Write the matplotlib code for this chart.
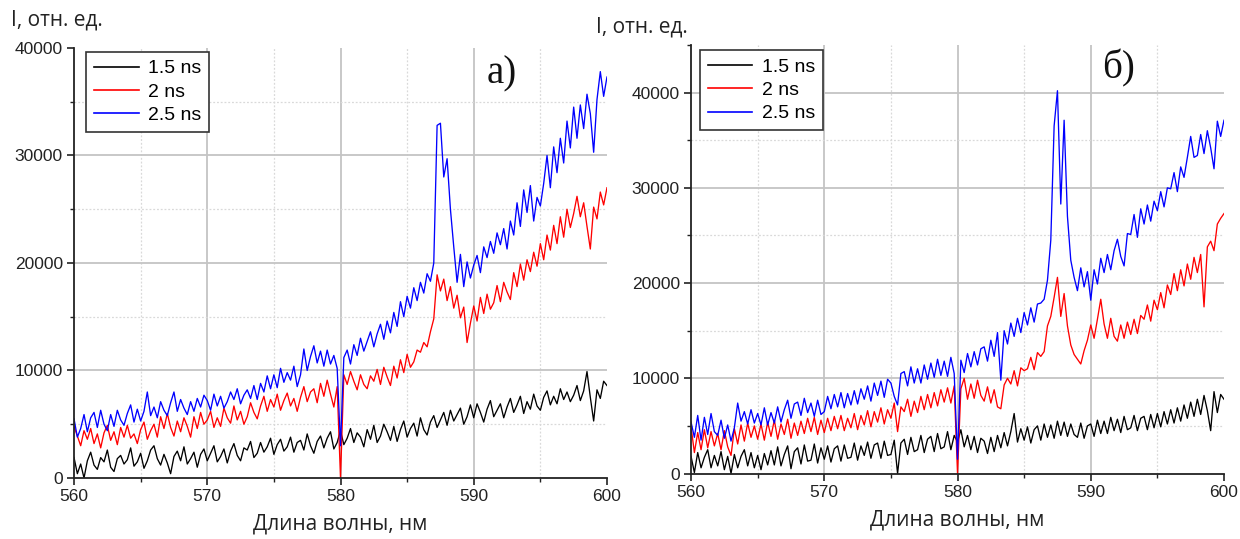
import numpy as np
import matplotlib
matplotlib.use("Agg")
import matplotlib.pyplot as plt
from matplotlib.ticker import MultipleLocator

# ---------------- data ----------------
wavelength = np.linspace(560, 600, 161)   # nm, 0.25 nm step
labels = ["1.5 ns", "2 ns", "2.5 ns"]
colors = ["#000000", "#ff0000", "#0000ff"]

a_15 = [1900, 400, 1300, 0, 1600, 2400, 1200, 800, 1900, 1500, 2600, 1000,
        600, 1800, 2100, 1300, 1700, 2800, 1100, 1500, 2300, 900, 1600, 2600,
        3000, 1800, 1200, 2200, 1400, 400, 2000, 2500, 1600, 2900, 1300, 1800,
        2400, 1000, 2200, 2700, 1600, 2300, 3000, 1500, 2000, 2700, 1400, 2500,
        3200, 2100, 1600, 2800, 2600, 3400, 1900, 2300, 3300, 2400, 2900, 3700,
        2200, 3100, 3600, 2500, 2900, 3800, 2400, 3300, 3500, 2600, 4100, 3000,
        2300, 3400, 3900, 2800, 3700, 4300, 2700, 3300, 4400, 3100, 3700, 4600,
        3300, 4200, 3800, 2900, 4500, 3600, 4900, 3300, 3900, 5000, 4300, 3500,
        4800, 3400, 4500, 5300, 3800, 4600, 5100, 3900, 5600, 4500, 4000, 5200,
        5800, 4700, 5400, 6100, 4900, 6300, 5300, 5900, 6500, 5000, 5700, 6800,
        5600, 6900, 6100, 5200, 6400, 7200, 5700, 6300, 6900, 5600, 6600, 7400,
        6100, 6800, 7600, 6000, 7100, 6400, 7800, 6700, 6300, 7500, 8100, 6800,
        7600, 6900, 8300, 7300, 8000, 7100, 7700, 8600, 7200, 8100, 9900, 7500,
        5300, 8200, 7400, 9000, 8600]

a_2 = [4800, 3900, 3000, 4400, 3600, 4600, 3200, 4100, 2800, 4200, 4900, 3500,
       4300, 3100, 4700, 3800, 4900, 3700, 4100, 3200, 4500, 5200, 3600, 4400,
       5000, 3800, 5700, 4600, 6000, 4700, 3900, 5300, 4300, 5600, 4800, 3800,
       5700, 4600, 6100, 5000, 5400, 6200, 4700, 5600, 4800, 6500, 5600, 5100,
       6700, 5400, 6200, 5000, 5700, 7000, 6100, 5500, 6700, 7600, 6200, 7300,
       6600, 7800, 6300, 7200, 7900, 6700, 7400, 6200, 7500, 8500, 7100, 8000,
       8300, 7000, 8800, 7600, 9100, 7800, 6600, 8500, 0, 9600, 8700, 9900,
       9000, 8200, 9600, 8700, 8300, 9500, 9000, 10100, 8700, 10300, 9400, 8600,
       10400, 9300, 11000, 9800, 11500, 10300, 10800, 11900, 11700, 12600, 12200, 13600,
       14800, 18900, 17400, 18500, 16500, 17800, 15800, 17000, 14900, 15900, 12600, 14400,
       16000, 14600, 16800, 15300, 17100, 15700, 16300, 17900, 16400, 18200, 17300, 16600,
       19100, 17800, 19900, 18400, 20300, 19200, 21000, 19700, 21800, 20300, 22600, 21200,
       23500, 21800, 24300, 22400, 25000, 23300, 24600, 26200, 24300, 25600, 23400, 21300,
       25200, 24100, 26600, 25400, 27000]

a_25 = [5500, 3800, 4600, 5900, 4300, 5600, 6100, 4700, 6300, 5000, 4400, 5900,
        4800, 6300, 5400, 4900, 6000, 6800, 5200, 6400, 5300, 6200, 8000, 5800,
        6600, 5600, 7100, 6300, 5800, 7000, 8000, 6200, 7300, 6500, 5900, 7100,
        6200, 7400, 6600, 7700, 7200, 6300, 7800, 6700, 7600, 6500, 7100, 8000,
        7300, 8300, 6900, 7700, 8200, 7400, 8600, 7300, 8800, 8000, 9500, 8300,
        9600, 8400, 10200, 8900, 9800, 9100, 10400, 8500, 9600, 12000, 10000, 11300,
        12300, 10700, 11800, 10400, 11900, 10600, 11400, 10200, 3000, 11200, 11900, 10600,
        12400, 11400, 13000, 11800, 12700, 13600, 12200, 13400, 14300, 12900, 14600, 13500,
        15400, 14100, 16400, 15000, 16900, 15800, 17700, 16500, 18200, 17200, 19000, 18300,
        20000, 32800, 33000, 28000, 29700, 25000, 21500, 18200, 20800, 17800, 20100, 18600,
        19800, 20700, 19100, 21500, 20500, 22000, 20900, 22800, 21700, 23200, 21300, 23900,
        22600, 25600, 23400, 26800, 24700, 27200, 23900, 26100, 25300, 27400, 30000, 27000,
        30800, 28400, 31600, 29300, 33200, 30700, 34500, 31600, 34700, 32500, 35700, 33900,
        30300, 35200, 37800, 35500, 37300]

b_15 = [1800, 100, 2200, 600, 1700, 2500, 600, 1900, 800, 2300, 400, 1800,
        0, 2000, 600, 1800, 2500, 800, 2200, 600, 1900, 400, 2100, 900,
        2400, 900, 2800, 800, 2000, 2900, 500, 2300, 2700, 1000, 3000, 1300,
        1400, 3100, 1100, 2700, 1500, 2900, 1200, 2600, 2900, 1300, 3000, 1600,
        1700, 3200, 1400, 2900, 1900, 3300, 1600, 3000, 3200, 1600, 3400, 1900,
        2000, 3500, 0, 3200, 3600, 2000, 3800, 2300, 2500, 4000, 2200, 3600,
        3900, 2300, 4200, 2600, 2800, 4400, 2500, 4000, 3300, 4600, 2800, 4000,
        2500, 3900, 2200, 3700, 3400, 2100, 3800, 2300, 4000, 2700, 4300, 2900,
        4400, 6300, 3300, 4700, 3500, 4900, 3200, 4600, 5000, 3500, 5200, 3800,
        5100, 3700, 5500, 4000, 5400, 3900, 5200, 4100, 3800, 5300, 3700, 5000,
        5200, 3900, 5600, 4200, 5500, 4200, 5900, 4500, 5700, 4300, 6000, 4600,
        4800, 6100, 4500, 5800, 6000, 4600, 6200, 4800, 6300, 4900, 6500, 5200,
        6700, 5300, 6900, 5500, 7200, 5800, 7500, 6000, 7800, 6200, 8200, 6600,
        4500, 8600, 6400, 8300, 7800]

b_2 = [4900, 2200, 4300, 2500, 4600, 2700, 4400, 2900, 4200, 2500, 4500, 2800,
       1900, 4700, 3100, 5100, 3400, 5300, 3800, 5000, 3600, 5200, 3500, 5400,
       3900, 5600, 3600, 5200, 4100, 5700, 3700, 5300, 4000, 5500, 4200, 5800,
       4400, 5900, 4100, 5600, 4300, 5800, 4500, 6000, 4700, 6100, 4500, 5800,
       4800, 6300, 4600, 6100, 5100, 6600, 4900, 6500, 5400, 6900, 5200, 6700,
       5800, 7400, 4400, 7000, 6500, 7800, 6000, 7600, 6400, 8100, 6700, 8300,
       6900, 8500, 7100, 8800, 7500, 9000, 7400, 9200, 0, 8900, 10000, 7800,
       9400, 7900, 9800, 8200, 7600, 9100, 7400, 8800, 7000, 6800, 9300, 10000,
       9400, 10800, 9200, 11100, 10800, 11000, 12200, 10900, 12700, 12300, 12800, 15500,
       16500, 18500, 20600, 16500, 18900, 15500, 13500, 12500, 12000, 11500, 12900, 14000,
       15600, 14200, 16200, 18300, 15700, 14200, 16300, 14400, 13900, 15600, 14200, 15900,
       14600, 16200, 14700, 16600, 16200, 17700, 16000, 18200, 17200, 19000, 17400, 19800,
       18800, 21000, 19200, 21400, 19700, 22000, 20400, 22700, 21100, 23000, 17500, 23800,
       24400, 23400, 26200, 26800, 27300]

b_25 = [5400, 3800, 6100, 3500, 5900, 4100, 6300, 4400, 4000, 5600, 3700, 5100,
        3400, 4800, 7400, 5500, 6500, 5200, 6700, 5300, 6300, 5100, 6900, 5100,
        6400, 5300, 7000, 5400, 6700, 7700, 5800, 7300, 7500, 6100, 7900, 6400,
        7400, 6000, 7700, 6200, 6500, 8100, 6800, 8300, 7000, 8500, 6900, 8400,
        7200, 8700, 7300, 8900, 7800, 9200, 7600, 9500, 8200, 9700, 8000, 9900,
        9500, 8100, 7200, 10500, 10700, 9200, 11200, 9500, 11000, 9500, 11400, 9900,
        11600, 10100, 12000, 10300, 11800, 10200, 12200, 10500, 1500, 11900, 10600, 12600,
        11200, 12800, 11400, 13100, 13300, 11800, 14000, 12300, 14800, 9800, 15000, 13600,
        15800, 14400, 16300, 14800, 16900, 15600, 17400, 15900, 17800, 17900, 18300, 20300,
        24500, 36500, 40200, 28300, 37100, 27000, 22400, 20600, 19200, 21600, 19600, 21200,
        18200, 21400, 19900, 22600, 21100, 23000, 21400, 23400, 24600, 22800, 21800, 25200,
        25100, 27200, 24800, 27800, 26200, 28200, 26500, 28600, 27600, 29600, 28000, 30000,
        29900, 31600, 29600, 32200, 31100, 33200, 35400, 33200, 33400, 35600, 33600, 36000,
        34200, 32000, 37000, 35400, 37100]

panels = [
    dict(series=[a_15, a_2, a_25], ylim=(0, 40000), tag="а)",
         rect=[0.0597, 0.1132, 0.4298, 0.7978], tagpos=(0.405, 0.862),
         ylabelpos=(0.009, 0.962), legpos=(0.0694, 0.9035)),
    dict(series=[b_15, b_2, b_25], ylim=(0, 45000), tag="б)",
         rect=[0.5573, 0.1215, 0.4298, 0.7950], tagpos=(0.902, 0.873),
         ylabelpos=(0.481, 0.949), legpos=(0.5645, 0.907)),
]

fig = plt.figure(figsize=(12.4, 5.39), dpi=100)

major_style = dict(color="#c4c4c4", lw=1.3, zorder=0)
minor_style = dict(color="#d9d9d9", lw=0.9, ls=(0, (1.5, 1.5)), zorder=0)

for p in panels:
    ax = fig.add_axes(p["rect"])
    handles = []
    for vals, lab, col in zip(p["series"], labels, colors):
        h, = ax.plot(wavelength, vals, color=col, lw=0.95, label=lab, zorder=3)
        handles.append(h)
    x0, x1 = 560, 600
    y0, y1 = p["ylim"]
    ax.set_xlim(x0, x1)
    ax.set_ylim(y0, y1)
    ax.xaxis.set_major_locator(MultipleLocator(10))
    ax.xaxis.set_minor_locator(MultipleLocator(5))
    ax.yaxis.set_major_locator(MultipleLocator(10000))
    ax.yaxis.set_minor_locator(MultipleLocator(5000))
    # grid lines only strictly inside the plot area
    for t in ax.get_xticks():
        if x0 < t < x1:
            ax.axvline(t, **major_style)
    for t in ax.xaxis.get_minorticklocs():
        if x0 < t < x1:
            ax.axvline(t, **minor_style)
    for t in ax.get_yticks():
        if y0 < t < y1:
            ax.axhline(t, **major_style)
    for t in ax.yaxis.get_minorticklocs():
        if y0 < t < y1:
            ax.axhline(t, **minor_style)
    for s in ("top", "right"):
        ax.spines[s].set_visible(False)
    for s in ("left", "bottom"):
        ax.spines[s].set_linewidth(1.3)
        ax.spines[s].set_color("#222222")
        ax.spines[s].set_zorder(4)
    ax.tick_params(which="major", direction="out", length=5, width=1.2,
                   labelsize=12.5, colors="#222222", pad=3)
    ax.tick_params(which="minor", direction="out", length=3, width=1.0,
                   colors="#222222")
    for t in ax.get_xticklabels() + ax.get_yticklabels():
        t.set_fontfamily("Liberation Sans")
    ax.set_xlabel("Длина волны, нм", fontsize=15, family="Open Sans",
                  color="#222222", labelpad=7)
    leg = fig.legend(handles=handles, loc="upper left",
                     bbox_to_anchor=p["legpos"], frameon=True, fancybox=False,
                     edgecolor="#333333", framealpha=1,
                     handlelength=2.3, handletextpad=0.5, borderpad=0.4,
                     borderaxespad=0, labelspacing=0.3,
                     prop={"family": "Liberation Sans", "size": 14})
    leg.get_frame().set_linewidth(1.2)
    for lh in leg.get_lines():
        lh.set_linewidth(1.2)
    fig.text(*p["ylabelpos"], "I, отн. ед.", fontsize=15, family="Open Sans",
             color="#222222", ha="left", va="center")
    fig.text(*p["tagpos"], p["tag"], fontsize=28, family="Liberation Serif",
             color="#111111", ha="center", va="center")

fig.savefig("out.png", dpi=100)
